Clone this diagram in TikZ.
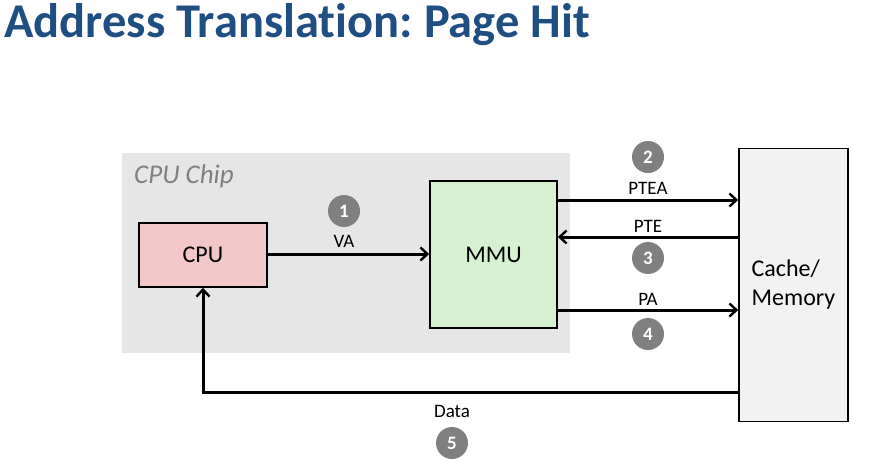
\documentclass[tikz,border=0pt]{standalone}
\usepackage{fontspec}
\setmainfont{Carlito}[Ligatures={NoCommon,NoRare,NoDiscretionary}]
\usetikzlibrary{arrows.meta}
\frenchspacing
\definecolor{titleblue}{HTML}{1F4E82}
\definecolor{chipgray}{HTML}{E6E6E6}
\definecolor{cpufill}{HTML}{F2C7C7}
\definecolor{mmufill}{HTML}{D6F1D0}
\definecolor{memfill}{HTML}{F2F2F2}
\definecolor{numgray}{HTML}{808080}
\begin{document}
\begin{tikzpicture}[x=1pt,y=-1pt,
  box/.style={draw=black, line width=1.6pt, inner sep=0pt},
  conn/.style={line width=3pt, -{Straight Barb[length=7pt,width=13pt,line width=2.4pt]}},
  lbl/.style={font=\fontsize{19}{22}\selectfont, inner sep=0pt},
  num/.style={circle, fill=numgray, minimum size=32pt, inner sep=0pt, text=white, font=\bfseries\fontsize{19}{22}\selectfont}]
\useasboundingbox (0,0) rectangle (883,461);
\node[anchor=west, text=titleblue, font=\bfseries\fontsize{48.5}{54}\selectfont, inner sep=0pt] (title) at (4,25) {Address Translation: Page Hit};
\node[fill=chipgray, minimum width=448pt, minimum height=200pt, inner sep=0pt] (chip) at (346,253) {};
\node[anchor=west, text=numgray, font=\itshape\fontsize{27}{30}\selectfont, inner sep=0pt] (chiplbl) at (134,176) {CPU Chip};
\node[box, fill=cpufill, minimum width=128pt, minimum height=64pt, font=\fontsize{24}{28}\selectfont] (cpu) at (203,255) {CPU};
\node[box, fill=mmufill, minimum width=127pt, minimum height=147pt, font=\fontsize{24}{28}\selectfont] (mmu) at (493.5,254.5) {MMU};
\node[box, fill=memfill, minimum width=109pt, minimum height=273pt, font=\fontsize{24}{29}\selectfont, align=left] (mem) at (793.5,285) {Cache/\\Memory};
% coordinates on box edges
\coordinate (mmuA) at (mmu.east |- 0,200);
\coordinate (memA) at (mem.west |- 0,200);
\coordinate (mmuB) at (mmu.east |- 0,237);
\coordinate (memB) at (mem.west |- 0,237);
\coordinate (mmuC) at (mmu.east |- 0,310);
\coordinate (memC) at (mem.west |- 0,310);
\coordinate (memD) at (mem.west |- 0,392);
\coordinate (corner) at (cpu.south |- 0,392);
\draw[conn] (cpu.east |- 0,254) -- (mmu.west |- 0,254);
\draw[conn] (mmuA) -- (memA);
\draw[conn] (memB) -- (mmuB);
\draw[conn] (mmuC) -- (memC);
\draw[conn] (memD) -- (corner) -- (cpu.south);
\node[lbl] (va) at (344,241) {VA};
\node[num] (n1) at (344,211) {1};
\node[lbl] (ptea) at (648,188) {PTEA};
\node[num] (n2) at (648,157) {2};
\node[lbl] (pte) at (648,226) {PTE};
\node[num] (n3) at (648,258) {3};
\node[lbl] (pa) at (648,299) {PA};
\node[num] (n4) at (648,334) {4};
\node[lbl] (data) at (452,411) {Data};
\node[num] (n5) at (452,443) {5};
\end{tikzpicture}
\end{document}
